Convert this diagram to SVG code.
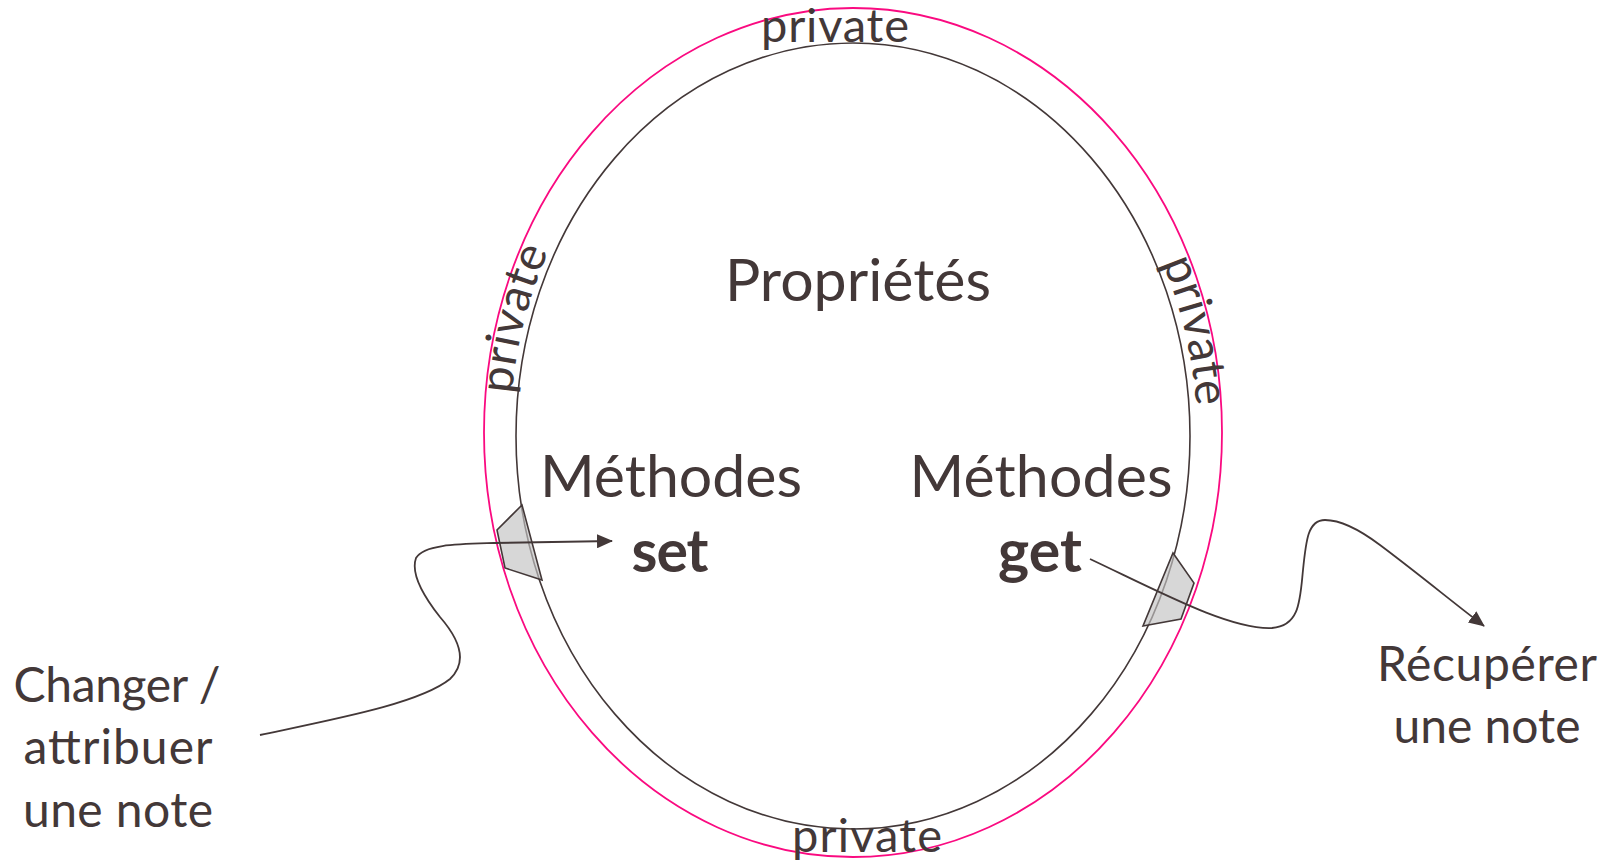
<svg xmlns="http://www.w3.org/2000/svg" width="1613" height="861" viewBox="0 0 1613 861">
<style>
.t{font-family:Lato,"Open Sans","Liberation Sans",sans-serif;fill:#433838}
.big{font-size:59px}
.bold{font-size:59px;font-weight:bold}
.lab{font-size:48px}
.priv{font-size:47px}
.gate{fill:#c3c3c3;fill-opacity:0.66;stroke:#433838;stroke-width:1.6;stroke-linejoin:miter}
.conn{fill:none;stroke:#433838;stroke-width:1.8}
</style>
<defs>
<marker id="arr" markerWidth="16" markerHeight="14" refX="15" refY="7" orient="auto" markerUnits="userSpaceOnUse">
<path d="M0,0 L16,7 L0,14 Z" fill="#433838"/>
</marker>
<path id="pl" d="M512,394 A344,397 0 0 1 558.9,230"/>
<path id="pr" d="M1160.5,258 A344,397 0 0 1 1197,430"/>
</defs>
<rect width="1613" height="861" fill="#ffffff"/>
<g id="object">
<ellipse cx="853" cy="432.5" rx="369" ry="424.5" fill="none" stroke="#fa0a80" stroke-width="1.8"/>
<ellipse cx="853" cy="436" rx="337" ry="393" fill="none" stroke="#433838" stroke-width="1.6"/>
</g>
<g id="private-labels">
<text class="t priv" x="835" y="42" text-anchor="middle" textLength="148">private</text>
<text class="t priv" x="867" y="852" text-anchor="middle" textLength="150">private</text>
<text class="t priv" textLength="148"><textPath href="#pl">private</textPath></text>
<text class="t priv" textLength="148"><textPath href="#pr" startOffset="5">private</textPath></text>
</g>
<g id="proprietes"><text class="t big" x="858" y="301" text-anchor="middle" textLength="266">Propriétés</text></g>
<g id="methodes-set">
<text class="t big" x="671" y="497" text-anchor="middle" textLength="262">Méthodes</text>
<text class="t bold" x="670" y="572" text-anchor="middle" textLength="77">set</text>
</g>
<g id="methodes-get">
<text class="t big" x="1041" y="497" text-anchor="middle" textLength="263">Méthodes</text>
<text class="t bold" x="1040" y="572" text-anchor="middle" textLength="84">get</text>
</g>
<g id="gate-set"><polygon class="gate" points="522,505 497,530 505,568 542,580"/></g>
<g id="gate-get"><polygon class="gate" points="1173,553 1194,583 1181,619 1143,626"/></g>
<g id="label-set">
<text class="t lab" x="117" y="702" text-anchor="middle" textLength="207">Changer /</text>
<text class="t lab" x="118" y="764" text-anchor="middle" textLength="189">attribuer</text>
<text class="t lab" x="118" y="827" text-anchor="middle" textLength="190">une note</text>
</g>
<g id="label-get">
<text class="t lab" x="1487" y="681" text-anchor="middle" textLength="220">Récupérer</text>
<text class="t lab" x="1487" y="743" text-anchor="middle" textLength="187">une note</text>
</g>
<g id="connectors">
<path class="conn" marker-end="url(#arr)" d="M260,735 C340,718 420,703 450,679 C468,662 460,640 440,617 C425,598 410,575 416,558 C424,544 460,544 494,543 L612,541"/>
<path class="conn" marker-end="url(#arr)" d="M1090,559 C1160,592 1230,630 1272,628 C1300,626 1300,600 1303,570 C1306,540 1308,520 1325,520 C1340,520 1360,530 1380,545 C1420,575 1450,600 1484,626"/>
</g>
</svg>
